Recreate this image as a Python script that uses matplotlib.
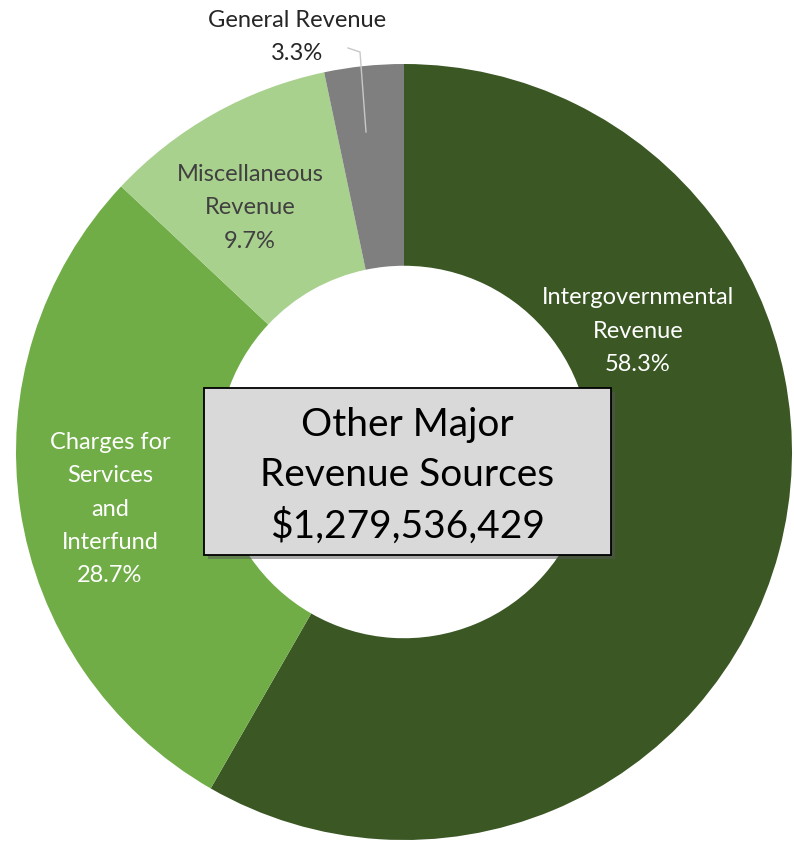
import matplotlib
matplotlib.use("Agg")
import matplotlib.pyplot as plt
from matplotlib.patches import Rectangle

plt.rcParams['font.family'] = ['Lato', 'DejaVu Sans']

categories = ["Intergovernmental\nRevenue", "Charges for\nServices\nand\nInterfund",
              "Miscellaneous\nRevenue", "General Revenue"]
shares = [58.3, 28.7, 9.7, 3.3]
colors = ['#3a5724', '#70ad47', '#a9d18e', '#7f7f7f']
label_colors = ['white', 'white', '#404040', '#262626']
total_label = "Other Major\nRevenue Sources\n$1,279,536,429"

W, H = 794, 844
fig = plt.figure(figsize=(W / 100, H / 100), dpi=100)
ax = fig.add_axes([0, 0, 1, 1])

cx, cy, r = 404, H - 452, 388
wedges, _ = ax.pie(shares, colors=colors, startangle=90, counterclock=False,
                   radius=r, center=(cx, cy), wedgeprops=dict(width=r * 0.52, linewidth=0))

ax.set_xlim(0, W)
ax.set_ylim(0, H)
ax.set_aspect('equal')
ax.axis('off')

# label placement (pixel positions from top-left)
label_pos = [(638, 331), (110, 509), (250, 208), (297, 37)]
for i, (name, val) in enumerate(zip(categories, shares)):
    x, y = label_pos[i]
    ax.text(x, H - y, f"{name}\n{val}%", ha='center', va='center', fontsize=17,
            color=label_colors[i], linespacing=1.72)

# leader line for the small slice
ax.plot([348, 360, 366], [H - 48, H - 52, H - 132], color='#c8c8c8', lw=1)

# center box with shadow
bx, by, bw, bh = 204, 388, 407, 167
ax.add_patch(Rectangle((bx + 4, H - by - bh - 4), bw, bh, facecolor='#555555', alpha=0.5,
                       edgecolor='none', zorder=3))
ax.add_patch(Rectangle((bx, H - by - bh), bw, bh, facecolor='#d9d9d9', edgecolor='black',
                       lw=1.3, zorder=4))
ax.text(bx + bw / 2, H - 476, total_label, ha='center', va='center', fontsize=28,
        color='black', linespacing=1.48, zorder=5)

fig.savefig("out.png", dpi=100)
